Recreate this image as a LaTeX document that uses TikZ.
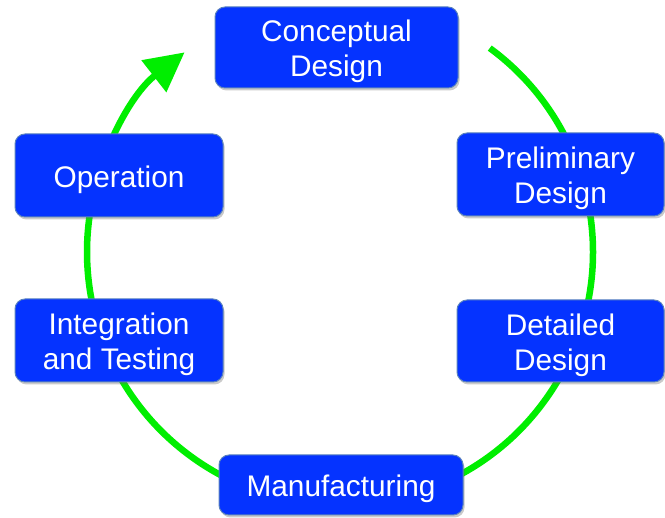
\documentclass[tikz,border=0pt]{standalone}
\usepackage{fontspec}
\setmainfont{Liberation Sans}
\usetikzlibrary{arrows.meta,shadows,calc}
\definecolor{boxblue}{RGB}{5,51,255}
\definecolor{boxedge}{RGB}{90,130,190}
\definecolor{cycgreen}{RGB}{0,238,0}
\newcommand{\phasetext}[1]{\raisebox{-5pt}[\height][\depth]{\begin{tabular}{@{}c@{}}#1\end{tabular}}}
\begin{document}
\begin{tikzpicture}[x=1pt,y=1pt,
  phase/.style={draw=boxedge, line width=1pt, fill=boxblue, rounded corners=10pt,
    text=white, align=center, inner sep=0pt,
    font=\fontsize{29.8}{35}\selectfont,
    drop shadow={shadow xshift=1.5pt, shadow yshift=-2.5pt, opacity=0.35, fill=black!60}},
  cycle/.style={draw=cycgreen, line width=6.5pt, -{Triangle[length=39pt,width=39pt]}}]
\useasboundingbox (0,0) rectangle (665,518);
\coordinate (ctr) at (340,266);
\coordinate (start) at ($(ctr)+(53.7:253)$);
\draw[cycle] (start) arc[start angle=53.7, end angle=-232.1, radius=253];
\node[phase, minimum width=243pt, minimum height=81pt] (concept) at (336.5,470.5) {\phasetext{Conceptual\\Design}};
\node[phase, minimum width=207pt, minimum height=83pt] (prelim) at (560.5,343.5) {\phasetext{Preliminary\\Design}};
\node[phase, minimum width=207pt, minimum height=82pt] (detail) at (560.5,177) {\phasetext{Detailed\\Design}};
\node[phase, minimum width=244pt, minimum height=60pt] (manuf) at (341,33) {\phasetext{Manufacturing}};
\node[phase, minimum width=208pt, minimum height=83pt] (integ) at (119,177.5) {\phasetext{Integration\\and Testing}};
\node[phase, minimum width=208pt, minimum height=83pt] (oper) at (119,342.5) {\phasetext{Operation}};
\end{tikzpicture}
\end{document}
